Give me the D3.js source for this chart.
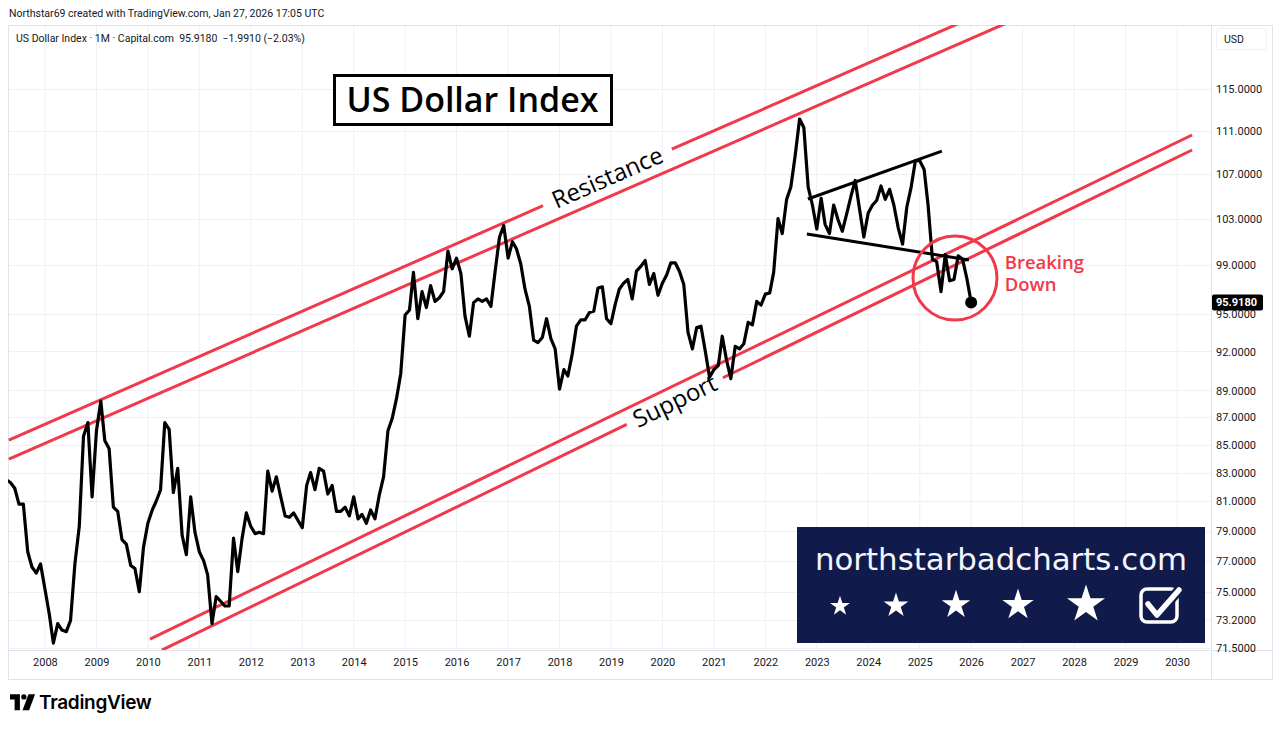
<!doctype html>
<html>
<head>
<meta charset="UTF-8">
<title>US Dollar Index</title>
<script src="https://cdn.jsdelivr.net/npm/d3@7"></script>
<style>
  body { margin: 0; background: #fff; }
  svg { display: block; }
</style>
</head>
<body>
<svg id="chart" width="1280" height="729"></svg>
<script>
// ---- data: monthly closes (Capital.com DXY), first value = Apr 2007 ----
var firstMonth = "2007-04-01";
var closes2007 = [82.5, 82.3, 81.9, 80.8, 80.8, 77.6, 76.6, 76.2, 76.8];
var closes2008 = [75.2, 73.6, 71.8, 73.0, 72.6, 72.5, 73.2, 76.8, 79.3, 85.6, 86.6, 81.3];
var closes2009 = [86.0, 88.2, 85.3, 84.7, 80.6, 80.3, 78.4, 78.1, 76.7, 76.5, 75.0, 77.9];
var closes2010 = [79.5, 80.4, 81.0, 81.8, 86.6, 86.1, 81.6, 83.3, 78.7, 77.4, 81.3, 78.9];
var closes2011 = [77.6, 77.0, 76.1, 73.0, 74.7, 74.4, 74.1, 74.1, 78.5, 76.3, 78.5, 80.2];
var closes2012 = [79.3, 78.8, 78.9, 78.8, 83.1, 81.7, 82.7, 81.3, 80.0, 79.9, 80.2, 79.7];
var closes2013 = [79.2, 82.1, 83.0, 81.8, 83.3, 83.1, 81.5, 82.1, 80.3, 80.3, 80.6, 80.0];
var closes2014 = [81.3, 79.8, 80.1, 79.5, 80.4, 79.8, 81.4, 82.7, 86.0, 86.9, 88.4, 90.3];
var closes2015 = [94.9, 95.3, 98.4, 94.6, 96.8, 95.5, 97.3, 96.0, 96.3, 96.8, 100.2, 98.7];
var closes2016 = [99.6, 98.3, 94.8, 93.2, 95.9, 96.2, 96.0, 96.2, 95.6, 98.5, 101.4, 102.4];
var closes2017 = [99.6, 101.0, 100.4, 99.1, 97.0, 95.6, 92.9, 92.7, 93.1, 94.6, 93.0, 92.2];
var closes2018 = [89.1, 90.6, 90.1, 91.8, 94.0, 94.5, 94.5, 95.1, 95.2, 97.1, 97.2, 94.6];
var closes2019 = [94.2, 95.8, 97.0, 97.5, 97.8, 96.2, 98.5, 98.9, 99.4, 97.4, 98.3, 96.5];
var closes2020 = [97.5, 98.2, 99.2, 99.2, 98.5, 97.4, 93.5, 92.2, 93.9, 94.0, 92.0, 90.0];
var closes2021 = [90.6, 90.9, 93.2, 91.3, 89.9, 92.4, 92.2, 92.6, 94.3, 94.1, 96.0, 95.7];
var closes2022 = [96.6, 96.7, 98.4, 103.0, 101.7, 104.7, 105.8, 108.7, 112.1, 111.3, 105.8, 104.2];
var closes2023 = [102.1, 104.8, 102.5, 101.7, 104.2, 102.9, 101.9, 103.4, 105.0, 106.4, 103.8, 101.4];
var closes2024 = [103.5, 104.2, 104.6, 105.9, 104.7, 105.6, 104.2, 102.2, 100.8, 104.0, 105.8, 108.2];
var closes2025 = [108.2, 107.4, 104.2, 99.5, 99.3, 96.8, 99.9, 97.7, 97.8, 99.8, 99.5, 97.909];
var closes2026 = [95.918];

var yearTicks = d3.range(2008, 2031);
var priceTicks = [115, 111, 107, 103, 99, 95, 92, 89, 87, 85, 83, 81, 79, 77, 75, 73.2, 71.5];

// drawings, as [date, price]
var resistanceUpper = [["2007-04-20", 85.33], ["2025-10-27", 121.74]];
var resistanceLower = [["2007-04-20", 83.96], ["2026-09-26", 121.74]];
var resistanceGap = ["2017-09-06", "2020-03-08"];
var supportUpper = [["2010-01-16", 72.04], ["2030-04-18", 110.59]];
var supportLower = [["2010-04-10", 71.37], ["2030-04-18", 109.19]];
var supportGap = ["2019-04-23", "2021-03-06"];
var wedgeTop = [["2022-10-30", 104.73], ["2025-06-07", 109.09]];
var wedgeBottom = [["2022-10-23", 101.66], ["2025-12-16", 99.44]];
var breakCircle = ["2025-09-08", 97.93];
var breakLabel = ["2026-08-27", 98.7];
var breakWords = ["Breaking", "Down"];

var lastClose = 95.918;

// ---- setup ----
var uiFont = "Roboto, 'Liberation Sans', Arial, sans-serif";
var drawFont = "'Open Sans', 'DejaVu Sans', sans-serif";
var red = "#f0394a";
var ink = "#131722";
var gridColor = "#eef0f4";
var frameColor = "#e0e3eb";

var svg = d3.select("#chart");
var pane = {left: 8, top: 25, right: 1211, bottom: 650};
var frame = {right: 1272, bottom: 679};

var parseDay = d3.utcParse("%Y-%m-%d");
var x = d3.scaleUtc()
  .domain([new Date(Date.UTC(2008, 0, 1)), new Date(Date.UTC(2030, 0, 1))])
  .range([44.9, 1177]);
var y = d3.scaleLog().domain([71.5, 115]).range([648, 89]);

var allCloses = [].concat(closes2007, closes2008, closes2009, closes2010, closes2011,
  closes2012, closes2013, closes2014, closes2015, closes2016, closes2017, closes2018,
  closes2019, closes2020, closes2021, closes2022, closes2023, closes2024, closes2025, closes2026);
var start = parseDay(firstMonth);
var series = allCloses.map(function(v, i) {
  return {date: d3.utcMonth.offset(start, i), value: v};
});

// header text
svg.append("text")
  .attr("x", 9).attr("y", 17)
  .attr("font-family", uiFont).attr("font-size", 10.5).attr("fill", ink)
  .text("Northstar69 created with TradingView.com, Jan 27, 2026 17:05 UTC");

// clip for the pane
svg.append("clipPath").attr("id", "paneClip")
  .append("rect")
  .attr("x", pane.left).attr("y", pane.top)
  .attr("width", pane.right - pane.left).attr("height", pane.bottom - pane.top);

// grid
var grid = svg.append("g").attr("clip-path", "url(#paneClip)");
grid.selectAll(".vgrid").data(yearTicks).enter().append("line")
  .attr("x1", function(d) { return x(new Date(Date.UTC(d, 0, 1))); })
  .attr("x2", function(d) { return x(new Date(Date.UTC(d, 0, 1))); })
  .attr("y1", pane.top).attr("y2", pane.bottom)
  .attr("stroke", gridColor).attr("stroke-width", 1);
grid.selectAll(".hgrid").data(priceTicks).enter().append("line")
  .attr("x1", pane.left).attr("x2", pane.right)
  .attr("y1", function(d) { return Math.round(y(d)) + 0.5; })
  .attr("y2", function(d) { return Math.round(y(d)) + 0.5; })
  .attr("stroke", gridColor).attr("stroke-width", 1);

// frame
svg.append("rect")
  .attr("x", pane.left + 0.5).attr("y", pane.top + 0.5)
  .attr("width", frame.right - pane.left).attr("height", frame.bottom - pane.top)
  .attr("fill", "none").attr("stroke", frameColor);
svg.append("line")
  .attr("x1", pane.right + 0.5).attr("x2", pane.right + 0.5)
  .attr("y1", pane.top).attr("y2", frame.bottom)
  .attr("stroke", frameColor);
svg.append("line")
  .attr("x1", pane.left).attr("x2", frame.right)
  .attr("y1", pane.bottom + 0.5).attr("y2", pane.bottom + 0.5)
  .attr("stroke", frameColor);

// legend
svg.append("text")
  .attr("x", 16).attr("y", 42)
  .attr("font-family", uiFont).attr("font-size", 10.5).attr("fill", ink)
  .attr("xml:space", "preserve")
  .text("US Dollar Index \u00b7 1M \u00b7 Capital.com  95.9180  \u22121.9910 (\u22122.03%)");

// watermark box
var wm = svg.append("g");
wm.append("rect").attr("x", 797).attr("y", 527).attr("width", 408).attr("height", 116)
  .attr("fill", "#101b4b");
wm.append("text")
  .attr("x", 815).attr("y", 570)
  .attr("font-family", "'DejaVu Sans', Verdana, sans-serif").attr("font-size", 31)
  .attr("textLength", 372).attr("lengthAdjust", "spacingAndGlyphs")
  .attr("fill", "#f4f6fb")
  .text("northstarbadcharts.com");
var stars = [[840, 605, 10.5], [896, 604, 13], [956, 603, 15], [1018, 603, 16.5], [1086, 602, 20]];
wm.selectAll(".star").data(stars).enter().append("path")
  .attr("transform", function(d) { return "translate(" + d[0] + "," + (d[1] + d[2] * 0.12) + ")"; })
  .attr("d", function(d) { return d3.symbol(d3.symbolStar, d[2] * d[2] / 0.8908130915292852)(); })
  .attr("fill", "#ffffff");
wm.append("rect").attr("x", 1141).attr("y", 589).attr("width", 36).attr("height", 33).attr("rx", 6)
  .attr("fill", "none").attr("stroke", "#ffffff").attr("stroke-width", 3.5);
wm.append("path").attr("d", "M1148,604 L1157,615 L1179,590")
  .attr("fill", "none").attr("stroke", "#101b4b").attr("stroke-width", 10)
  .attr("stroke-linecap", "round").attr("stroke-linejoin", "round");
wm.append("path").attr("d", "M1148,604 L1157,615 L1179,590")
  .attr("fill", "none").attr("stroke", "#ffffff").attr("stroke-width", 5.5)
  .attr("stroke-linecap", "round").attr("stroke-linejoin", "round");

// plot layer
var plot = svg.append("g").attr("clip-path", "url(#paneClip)");

function pt(p) { return [x(parseDay(p[0])), y(p[1])]; }

// straight drawing (screen-straight like a TradingView trend line), optional gap by dates
function trend(points, color, width, gap) {
  var a = pt(points[0]), b = pt(points[1]);
  var segs = [[a, b]];
  if (gap) {
    var g0 = x(parseDay(gap[0])), g1 = x(parseDay(gap[1]));
    var at = function(gx) { var f = (gx - a[0]) / (b[0] - a[0]); return [gx, a[1] + f * (b[1] - a[1])]; };
    segs = [[a, at(g0)], [at(g1), b]];
  }
  segs.forEach(function(s) {
    plot.append("line")
      .attr("x1", s[0][0]).attr("y1", s[0][1]).attr("x2", s[1][0]).attr("y2", s[1][1])
      .attr("stroke", color).attr("stroke-width", width).attr("stroke-linecap", "butt");
  });
  return {a: a, b: b};
}

function labelOnLine(line, gap, txt, size) {
  var a = line.a, b = line.b;
  var gx = (x(parseDay(gap[0])) + x(parseDay(gap[1]))) / 2;
  var f = (gx - a[0]) / (b[0] - a[0]);
  var gy = a[1] + f * (b[1] - a[1]);
  var ang = Math.atan2(b[1] - a[1], b[0] - a[0]) * 180 / Math.PI;
  plot.append("text")
    .attr("transform", "translate(" + gx + "," + gy + ") rotate(" + ang + ")")
    .attr("text-anchor", "middle").attr("dy", "0.35em")
    .attr("font-family", drawFont).attr("font-size", size).attr("font-weight", 500)
    .attr("fill", "#000").text(txt);
}

var rU = trend(resistanceUpper, red, 3, resistanceGap);
trend(resistanceLower, red, 3);
trend(supportUpper, red, 3);
var sL = trend(supportLower, red, 3, supportGap);
labelOnLine(rU, resistanceGap, "Resistance", 24);
labelOnLine(sL, supportGap, "Support", 24);

// price line
var line = d3.line()
  .x(function(d) { return x(d.date); })
  .y(function(d) { return y(d.value); });
plot.append("path").datum(series)
  .attr("d", line)
  .attr("fill", "none").attr("stroke", "#000").attr("stroke-width", 3.2)
  .attr("stroke-linejoin", "round").attr("stroke-linecap", "round");

// wedge lines
trend(wedgeTop, "#000", 3);
trend(wedgeBottom, "#000", 3);

// breaking circle + label
var bc = pt(breakCircle);
plot.append("circle").attr("cx", bc[0]).attr("cy", bc[1]).attr("r", 42)
  .attr("fill", "none").attr("stroke", red).attr("stroke-width", 3);
var bl = pt(breakLabel);
plot.selectAll(".breakWord").data(breakWords).enter().append("text")
  .attr("x", bl[0]).attr("y", function(d, i) { return bl[1] + i * 22; })
  .attr("font-family", drawFont).attr("font-size", 18.5).attr("font-weight", 600)
  .attr("fill", red).text(function(d) { return d; });

// last point dot
var last = series[series.length - 1];
plot.append("circle").attr("cx", x(last.date)).attr("cy", y(last.value)).attr("r", 6).attr("fill", "#000");

// title box
svg.append("rect").attr("x", 334.5).attr("y", 75.5).attr("width", 277).attr("height", 49)
  .attr("fill", "#fff").attr("stroke", "#000").attr("stroke-width", 3);
svg.append("text")
  .attr("x", 472.5).attr("y", 112)
  .attr("text-anchor", "middle")
  .attr("font-family", drawFont).attr("font-size", 34).attr("font-weight", 600)
  .attr("fill", "#000").text("US Dollar Index");

// axes
var xAxis = svg.append("g")
  .attr("transform", "translate(0," + pane.bottom + ")")
  .call(d3.axisBottom(x)
    .tickValues(yearTicks.map(function(d) { return new Date(Date.UTC(d, 0, 1)); }))
    .tickFormat(d3.utcFormat("%Y")).tickSize(0).tickPadding(8));
xAxis.select(".domain").remove();
xAxis.selectAll("text").attr("font-family", uiFont).attr("font-size", 11).attr("fill", ink)
  .attr("dy", "0.71em").attr("y", 8);

var yAxis = svg.append("g")
  .attr("transform", "translate(" + pane.right + ",0)")
  .call(d3.axisRight(y).tickValues(priceTicks).tickFormat(d3.format(".4f")).tickSize(0).tickPadding(5));
yAxis.select(".domain").remove();
yAxis.selectAll("text").attr("font-family", uiFont).attr("font-size", 11).attr("fill", ink);

// last price label
var ly = y(lastClose);
svg.append("rect").attr("x", pane.right + 1).attr("y", ly - 8).attr("width", 51).attr("height", 16)
  .attr("rx", 2).attr("fill", "#000");
svg.append("text").attr("x", pane.right + 5).attr("y", ly).attr("dy", "0.35em")
  .attr("font-family", uiFont).attr("font-size", 11).attr("font-weight", 700).attr("fill", "#fff")
  .text(d3.format(".4f")(lastClose));

// USD box
svg.append("rect").attr("x", 1216.5).attr("y", 28.5).attr("width", 50).attr("height", 21).attr("rx", 3)
  .attr("fill", "#fff").attr("stroke", "#eef0f3");
svg.append("text").attr("x", 1224).attr("y", 39).attr("dy", "0.35em")
  .attr("font-family", uiFont).attr("font-size", 10.5).attr("fill", ink).text("USD");

// TradingView logo
var logo = svg.append("g").attr("transform", "translate(10,693) scale(0.66)");
logo.append("path").attr("d", "M0,2 H15 V26 H7 V10 H0 Z").attr("fill", "#000");
logo.append("circle").attr("cx", 21).attr("cy", 6).attr("r", 4).attr("fill", "#000");
logo.append("path").attr("d", "M28,2 H38 L29,26 H19 Z").attr("fill", "#000");
svg.append("text").attr("x", 39).attr("y", 709)
  .attr("font-family", "Inter, Roboto, sans-serif").attr("font-size", 19).attr("font-weight", 600)
  .attr("fill", "#000").attr("letter-spacing", -0.3).text("TradingView");
</script>
</body>
</html>
